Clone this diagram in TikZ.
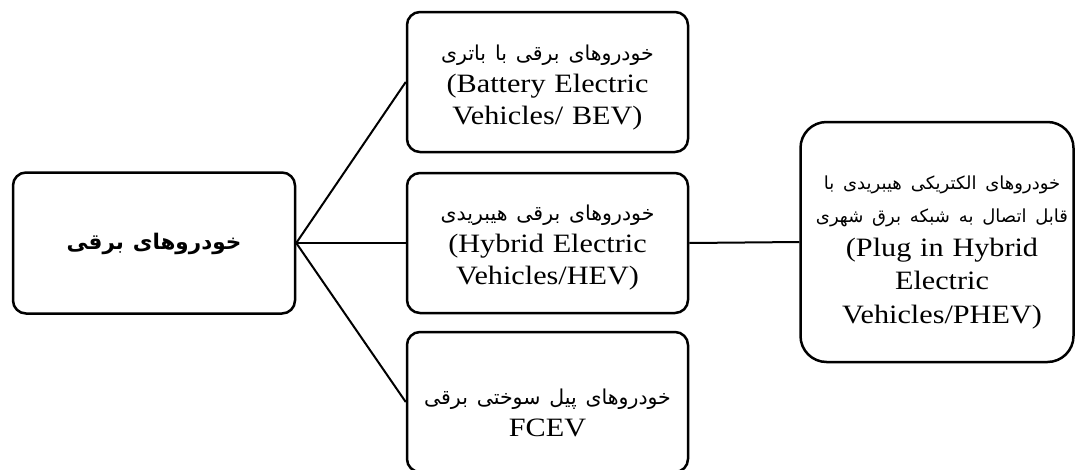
\documentclass[tikz,border=0pt]{standalone}
\usepackage{fontspec}
\setmainfont[FakeStretch=1.14]{Liberation Serif}
\newfontfamily\fa[Script=Arabic]{DejaVu Sans}
\TeXXeTstate=1
\begin{document}
\begin{tikzpicture}[x=1pt,y=-1pt,
  box/.style={draw=black, line width=2.5pt, rounded corners=13pt, fill=white,
    minimum width=281pt, minimum height=140pt, inner sep=0pt},
  txt/.style={inner sep=0pt, align=center, text width=275pt,
    font=\fontsize{26.5}{32}\selectfont},
  link/.style={draw=black, line width=2pt}]
\useasboundingbox (0,0) rectangle (1076,469);
\node[box, minimum width=282pt, minimum height=141pt] (root) at (154,243) {};
\node[txt] (roott) at (154,244)
  {\fa\bfseries\fontsize{21.5}{31}\selectfont\beginR خودروهای برقی\endR};
\node[box] (bev) at (547.5,82) {};
\node[txt] (bevt) at (547.5,88)
  {{\fa\fontsize{20.5}{32}\selectfont\beginR خودروهای برقی با باتری\endR}\\(Battery Electric\\Vehicles/ BEV)};
\node[box] (hev) at (547.5,243) {};
\node[txt] (hevt) at (547.5,248)
  {{\fa\fontsize{20.5}{32}\selectfont\beginR خودروهای برقی هیبریدی\endR}\\(Hybrid Electric\\Vehicles/HEV)};
\node[box] (fcev) at (547.5,402) {};
\node[txt] (fcevt) at (547.5,413)
  {{\fa\fontsize{20.5}{31}\selectfont\beginR خودروهای پیل سوختی برقی\endR}\\FCEV};
\node[box, rounded corners=26pt, minimum width=273pt, minimum height=240pt] (phev) at (937,242) {};
\node[txt, text width=262pt, font=\fontsize{26.5}{33.5}\selectfont] (phevt) at (942,252)
  {{\fa\fontsize{18}{33.5}\selectfont\beginR خودروهای الکتریکی هیبریدی با\endR}\\
   {\fa\fontsize{18}{33.5}\selectfont\beginR قابل اتصال به شبکه برق شهری\endR}\\
   (Plug in Hybrid\\Electric\\Vehicles/PHEV)};
\draw[link] (root.east) -- (bev.west);
\draw[link] (root.east) -- (hev.west);
\draw[link] (root.east) -- (fcev.west);
\draw[link] (hev.east) -- (phev.west);
\end{tikzpicture}
\end{document}
